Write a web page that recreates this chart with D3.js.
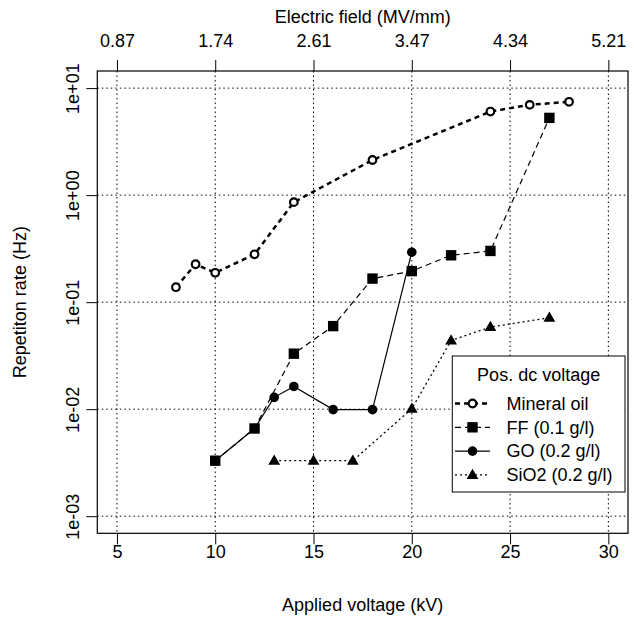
<!DOCTYPE html>
<html>
<head>
<meta charset="utf-8">
<script src="https://cdn.jsdelivr.net/npm/d3@7"></script>
<style>
  html, body { margin: 0; padding: 0; background: #fff; }
  svg { display: block; }
  text { font-family: "Liberation Sans", Arial, Helvetica, sans-serif; fill: #000; }
</style>
</head>
<body>
<svg id="chart" width="634" height="627"></svg>
<script>
// Applied voltage (kV) at each measurement, per liquid
const oilVoltage  = [8, 9, 10, 12, 14, 18, 24, 26, 28];
const oilRate     = [0.138, 0.226, 0.188, 0.28, 0.86, 2.13, 6.04, 6.98, 7.45];

const ffVoltage   = [10, 12, 14, 16, 18, 20, 22, 24, 27];
const ffRate      = [0.0033, 0.0066, 0.033, 0.0597, 0.166, 0.195, 0.274, 0.301, 5.27];

const goVoltage   = [10, 12, 13, 14, 16, 18, 20];
const goRate      = [0.0033, 0.0066, 0.0129, 0.0163, 0.0099, 0.0099, 0.293];

const sioVoltage  = [13, 15, 17, 20, 22, 24, 27];
const sioRate     = [0.0033, 0.0033, 0.0033, 0.0101, 0.0438, 0.0585, 0.0716];

// Axis ticks
const voltageTicks = [5, 10, 15, 20, 25, 30];
const fieldLabels  = ["0.87", "1.74", "2.61", "3.47", "4.34", "5.21"];
const rateTicks    = [1e-3, 1e-2, 1e-1, 1, 10];
const rateLabels   = ["1e-03", "1e-02", "1e-01", "1e+00", "1e+01"];

const legendTitle  = "Pos. dc voltage";
const seriesNames  = ["Mineral oil", "FF (0.1 g/l)", "GO (0.2 g/l)", "SiO2 (0.2 g/l)"];

const svg = d3.select("#chart");
const box = { left: 97.3, right: 628, top: 71, bottom: 533.3 };

// axis limits padded by 4% on each side
const xLim = [5, 30], yLim = [-3, 1];
const xPad = (xLim[1] - xLim[0]) * 0.04, yPad = (yLim[1] - yLim[0]) * 0.04;
const x = d3.scaleLinear().domain([xLim[0] - xPad, xLim[1] + xPad]).range([box.left, box.right]);
const y = d3.scaleLog().domain([Math.pow(10, yLim[0] - yPad), Math.pow(10, yLim[1] + yPad)]).range([box.bottom, box.top]);

const FS = 18;

// grid
const grid = svg.append("g").attr("stroke", "#000").attr("stroke-width", 1).attr("stroke-dasharray", "1.5,3");
grid.selectAll("line.v").data(voltageTicks).join("line")
  .attr("x1", d => x(d)).attr("x2", d => x(d)).attr("y1", box.top).attr("y2", box.bottom);
grid.selectAll("line.h").data(rateTicks).join("line")
  .attr("y1", d => y(d)).attr("y2", d => y(d)).attr("x1", box.left).attr("x2", box.right);

// axes
const bottomAxis = svg.append("g").attr("transform", `translate(0,${box.bottom})`)
  .call(d3.axisBottom(x).tickValues(voltageTicks).tickFormat(d3.format("d")).tickSize(11).tickSizeOuter(0));
bottomAxis.selectAll("text").attr("y", 18).attr("dy", "0.35em");

const topAxis = svg.append("g").attr("transform", `translate(0,${box.top})`)
  .call(d3.axisTop(x).tickValues(voltageTicks).tickFormat((d, i) => fieldLabels[i]).tickSize(11).tickSizeOuter(0));
topAxis.selectAll("text").attr("y", -30).attr("dy", "0.35em");

const leftAxis = svg.append("g").attr("transform", `translate(${box.left},0)`)
  .call(d3.axisLeft(y).tickValues(rateTicks).tickFormat((d, i) => rateLabels[i]).tickSize(11).tickSizeOuter(0));
leftAxis.selectAll("text").attr("x", null).attr("dy", "0.35em")
  .attr("text-anchor", "middle").attr("transform", "translate(-25,0) rotate(-90)");

[bottomAxis, topAxis, leftAxis].forEach(g => {
  g.select(".domain").remove();
  g.selectAll("line").attr("stroke", "#000").attr("stroke-width", 1);
  g.selectAll("text").attr("font-size", FS).attr("font-family", null).attr("fill", "#000");
});

// plot frame
svg.append("rect").attr("x", box.left).attr("y", box.top)
  .attr("width", box.right - box.left).attr("height", box.bottom - box.top)
  .attr("fill", "none").attr("stroke", "#000").attr("stroke-width", 1.2);

// axis titles
const midX = (box.left + box.right) / 2;
svg.append("text").attr("x", midX).attr("y", 17).attr("dy", "0.35em").attr("text-anchor", "middle")
  .attr("font-size", FS).text("Electric field (MV/mm)");
svg.append("text").attr("x", midX).attr("y", 605).attr("dy", "0.35em").attr("text-anchor", "middle")
  .attr("font-size", FS).text("Applied voltage (kV)");
svg.append("text").attr("transform", `translate(20,${(box.top + box.bottom) / 2}) rotate(-90)`)
  .attr("dy", "0.35em").attr("text-anchor", "middle").attr("font-size", FS).text("Repetiton rate (Hz)");

// series styling
const series = [
  { name: seriesNames[0], xs: oilVoltage, ys: oilRate, dash: "5,4", width: 2.5, marker: "open" },
  { name: seriesNames[1], xs: ffVoltage,  ys: ffRate,  dash: "6,4", width: 1.2, marker: "square" },
  { name: seriesNames[2], xs: goVoltage,  ys: goRate,  dash: null,  width: 1.2, marker: "circle" },
  { name: seriesNames[3], xs: sioVoltage, ys: sioRate, dash: "2,3", width: 1.3, marker: "triangle" }
];

function drawMarker(g, kind, cx, cy) {
  if (kind === "open") {
    g.append("circle").attr("cx", cx).attr("cy", cy).attr("r", 3.8)
      .attr("fill", "#fff").attr("stroke", "#000").attr("stroke-width", 2.2);
  } else if (kind === "square") {
    g.append("rect").attr("x", cx - 5.2).attr("y", cy - 5.2).attr("width", 10.4).attr("height", 10.4).attr("fill", "#000");
  } else if (kind === "circle") {
    g.append("circle").attr("cx", cx).attr("cy", cy).attr("r", 4.8).attr("fill", "#000");
  } else {
    const s = 6.2;
    g.append("path").attr("d", `M${cx},${cy - s}L${cx + s * 0.95},${cy + s * 0.65}L${cx - s * 0.95},${cy + s * 0.65}Z`).attr("fill", "#000");
  }
}

const line = d3.line().x(d => x(d[0])).y(d => y(d[1]));
series.slice().reverse().forEach(s => {
  const pts = s.xs.map((v, i) => [v, s.ys[i]]);
  const g = svg.append("g");
  g.append("path").datum(pts).attr("d", line).attr("fill", "none").attr("stroke", "#000")
    .attr("stroke-width", s.width).attr("stroke-dasharray", s.dash);
  pts.forEach(p => drawMarker(g, s.marker, x(p[0]), y(p[1])));
});

// legend
const lg = { x: 452.3, y: 356, w: 172.7, h: 136 };
const legend = svg.append("g");
legend.append("rect").attr("x", lg.x).attr("y", lg.y).attr("width", lg.w).attr("height", lg.h)
  .attr("fill", "#fff").attr("stroke", "#000").attr("stroke-width", 1);
legend.append("text").attr("x", lg.x + lg.w / 2).attr("y", 375).attr("dy", "0.35em")
  .attr("text-anchor", "middle").attr("font-size", FS).text(legendTitle);
series.forEach((s, i) => {
  const ry = 403.5 + i * 23.8;
  legend.append("line").attr("x1", 455).attr("x2", 490).attr("y1", ry).attr("y2", ry)
    .attr("stroke", "#000").attr("stroke-width", s.width).attr("stroke-dasharray", s.dash);
  drawMarker(legend, s.marker, 472.5, ry);
  legend.append("text").attr("x", 506.5).attr("y", ry).attr("dy", "0.35em")
    .attr("font-size", FS).text(s.name);
});
</script>
</body>
</html>
